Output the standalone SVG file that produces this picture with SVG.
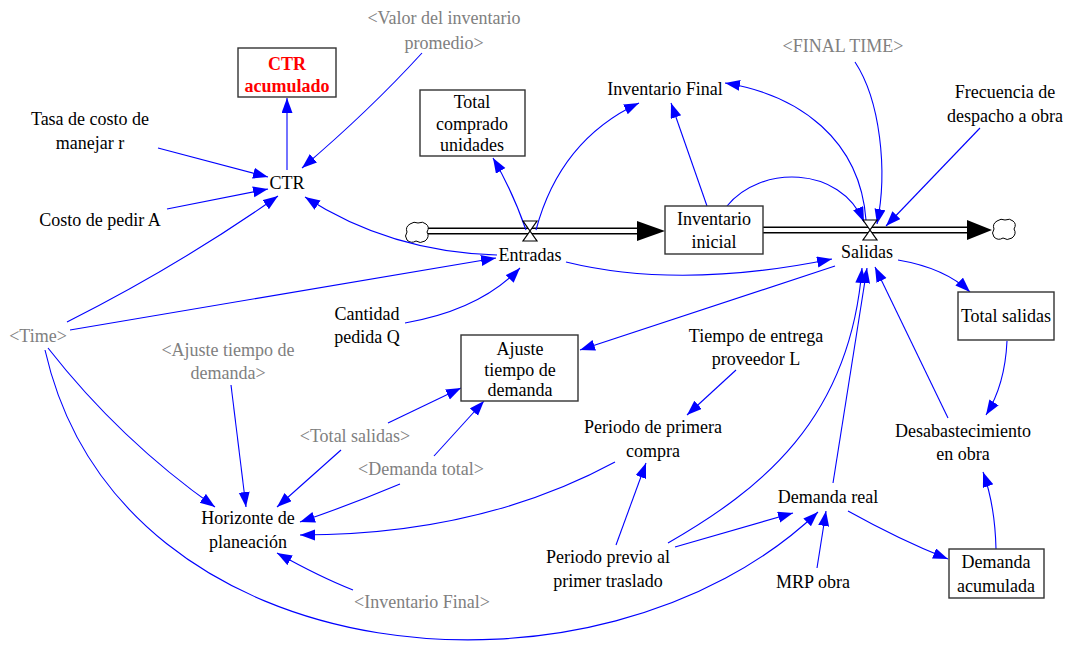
<svg xmlns="http://www.w3.org/2000/svg" width="1076" height="649" viewBox="0 0 1076 649" font-family="Liberation Serif, DejaVu Serif, serif">
<defs>
<style>
text{font-size:18px;fill:#000;text-anchor:middle}
.g{fill:#808080}
.red{fill:#ff0000;font-weight:bold}
.box{fill:#fff;stroke:#333;stroke-width:1.4}
.c{fill:none;stroke:#0000ff;stroke-width:1.1;marker-end:url(#ah)}
.pipeo{stroke:#000;stroke-width:7;fill:none}
.pipei{stroke:#fff;stroke-width:4;fill:none}
.cloud{fill:#fff;stroke:#000;stroke-width:1}
.valve{fill:#fff;stroke:#000;stroke-width:1.2}
</style>
<marker id="ah" markerUnits="userSpaceOnUse" markerWidth="16" markerHeight="12" refX="15" refY="5.5" orient="auto">
<path d="M0,0 L15,5.5 L0,11 z" fill="#0000ff"/>
</marker>
</defs>
<rect width="1076" height="649" fill="#fff"/>

<g id="flows">
<path class="pipeo" d="M428 231 H638"/>
<path class="pipei" d="M428 231 H638"/>
<polygon points="637,221 665,231 637,241" fill="#000"/>
<path class="pipeo" d="M763 230 H968"/>
<path class="pipei" d="M763 230 H968"/>
<polygon points="967,220 992,230 967,240" fill="#000"/>
</g>

<g id="cloud-left"><path class="cloud" d="M410 224 q4-3 8-1 q5-2 8 1 q4 3 1 8 q3 5-2 9 q-5 3-9 0 q-5 3-9-1 q-3-4 0-8 q-2-5 3-8 z"/></g>
<g id="cloud-right"><path class="cloud" d="M997 221 q4-3 8-1 q5-2 8 1 q4 3 1 8 q3 5-2 9 q-5 3-9 0 q-5 3-9-1 q-3-4 0-8 q-2-5 3-8 z"/></g>

<g id="connectors">
<path class="c" d="M287 170 L287 98"/>
<path class="c" d="M158 148 L268 177"/>
<path class="c" d="M167 209 L268 189"/>
<path class="c" d="M422 53 Q370 110 302 168"/>
<path class="c" d="M497 255 Q390 252 305 197"/>
<path class="c" d="M67 322 Q180 265 278 196"/>
<path class="c" d="M70 330 L496 258"/>
<path class="c" d="M405 323 Q480 310 520 268"/>
<path class="c" d="M526 230 Q512 190 493 158"/>
<path class="c" d="M536 230 Q560 140 639 103"/>
<path class="c" d="M707 206 L671 103"/>
<path class="c" d="M727 206 C760 165 840 165 864 222"/>
<path class="c" d="M866 220 C860 140 800 95 725 83"/>
<path class="c" d="M855 62 C880 100 888 170 877 224"/>
<path class="c" d="M980 128 L886 226"/>
<path class="c" d="M566 262 Q680 290 832 259"/>
<path class="c" d="M835 266 L580 350"/>
<path class="c" d="M898 260 Q945 268 970 292"/>
<path class="c" d="M1007 341 Q1005 385 986 415"/>
<path class="c" d="M948 418 L875 267"/>
<path class="c" d="M996 549 Q995 505 983 472"/>
<path class="c" d="M848 511 Q900 540 948 559"/>
<path class="c" d="M833 483 Q849 380 867 268"/>
<path class="c" d="M668 543 C760 490 850 420 862 268"/>
<path class="c" d="M675 547 L793 513"/>
<path class="c" d="M616 545 L646 463"/>
<path class="c" d="M817 568 L826 511"/>
<path class="c" d="M45 350 C120 680 600 720 818 512"/>
<path class="c" d="M48 348 Q120 440 215 507"/>
<path class="c" d="M231 385 L246 507"/>
<path class="c" d="M341 450 L277 507"/>
<path class="c" d="M400 484 Q350 505 300 522"/>
<path class="c" d="M615 462 Q480 535 300 535"/>
<path class="c" d="M353 590 Q320 577 277 553"/>
<path class="c" d="M388 423 L461 388"/>
<path class="c" d="M434 456 L484 401"/>
<path class="c" d="M736 370 L687 415"/>
</g>

<g id="valve-entradas"><path class="valve" d="M523 221 H537 L530 231 L537 241 H523 L530 231 Z"/></g>
<g id="valve-salidas"><path class="valve" d="M863 220 H877 L870 230 L877 240 H863 L870 230 Z"/></g>

<g id="ctr-acumulado"><rect class="box" x="238" y="48" width="98" height="49" stroke-width="2"/><text class="red" x="287" y="70">CTR</text><text class="red" x="287" y="92">acumulado</text></g>
<g id="valor-inventario"><text class="g" x="444" y="24">&lt;Valor del inventario</text><text class="g" x="444" y="49">promedio&gt;</text></g>
<g id="tasa"><text x="90" y="125">Tasa de costo de</text><text x="90" y="149">manejar r</text></g>
<g id="ctr"><text x="287" y="189">CTR</text></g>
<g id="costo-pedir"><text x="100" y="226">Costo de pedir A</text></g>
<g id="total-comprado"><rect class="box" x="420" y="90" width="105" height="66"/><text x="472" y="108">Total</text><text x="472" y="130">comprado</text><text x="472" y="151">unidades</text></g>
<g id="inventario-final"><text x="665" y="95">Inventario Final</text></g>
<g id="final-time"><text class="g" x="843" y="52">&lt;FINAL TIME&gt;</text></g>
<g id="frecuencia"><text x="1005" y="98">Frecuencia de</text><text x="1005" y="122">despacho a obra</text></g>
<g id="inventario-inicial"><rect class="box" x="665" y="206" width="98" height="48"/><text x="714" y="225">Inventario</text><text x="714" y="248">inicial</text></g>
<g id="entradas"><text x="530" y="261">Entradas</text></g>
<g id="salidas"><text x="867" y="258">Salidas</text></g>
<g id="total-salidas"><rect class="box" x="958" y="292" width="96" height="48"/><text x="1006" y="322">Total salidas</text></g>
<g id="cantidad"><text x="367" y="320">Cantidad</text><text x="367" y="343">pedida Q</text></g>
<g id="time"><text class="g" x="38" y="342">&lt;Time&gt;</text></g>
<g id="ajuste-box"><rect class="box" x="461" y="335" width="117" height="66"/><text x="520" y="355">Ajuste</text><text x="520" y="376">tiempo de</text><text x="520" y="396">demanda</text></g>
<g id="ajuste-shadow"><text class="g" x="228" y="356">&lt;Ajuste tiempo de</text><text class="g" x="228" y="379">demanda&gt;</text></g>
<g id="tiempo-entrega"><text x="756" y="342">Tiempo de entrega</text><text x="756" y="365">proveedor L</text></g>
<g id="total-salidas-shadow"><text class="g" x="355" y="442">&lt;Total salidas&gt;</text></g>
<g id="periodo-primera"><text x="653" y="433">Periodo de primera</text><text x="653" y="457">compra</text></g>
<g id="desabastecimiento"><text x="963" y="437">Desabastecimiento</text><text x="963" y="460">en obra</text></g>
<g id="demanda-total-shadow"><text class="g" x="421" y="475">&lt;Demanda total&gt;</text></g>
<g id="demanda-real"><text x="828" y="503">Demanda real</text></g>
<g id="horizonte"><text x="248" y="524">Horizonte de</text><text x="248" y="548">planeación</text></g>
<g id="periodo-previo"><text x="608" y="563">Periodo previo al</text><text x="608" y="587">primer traslado</text></g>
<g id="mrp"><text x="813" y="588">MRP obra</text></g>
<g id="demanda-acumulada"><rect class="box" x="949" y="549" width="95" height="49"/><text x="996" y="568">Demanda</text><text x="996" y="592">acumulada</text></g>
<g id="inventario-final-shadow"><text class="g" x="422" y="608">&lt;Inventario Final&gt;</text></g>
</svg>
